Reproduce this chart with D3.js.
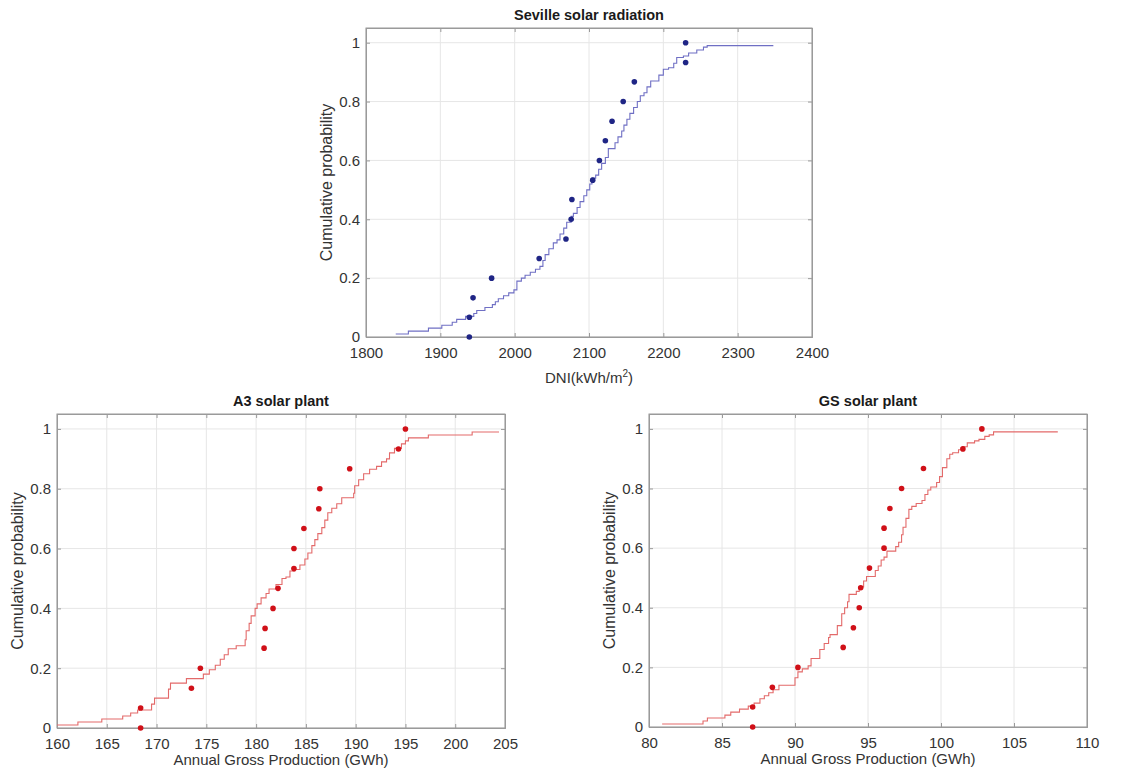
<!DOCTYPE html>
<html>
<head>
<meta charset="utf-8">
<script src="https://cdn.jsdelivr.net/npm/d3@7"></script>
<style>
  body { margin: 0; background: #fff; }
  svg { font-family: "Liberation Sans", Arial, sans-serif; }
</style>
</head>
<body>
<svg id="chart" width="1132" height="770"></svg>
<script>
// observed yearly values, ranked (cumulative probability levels)
const probLevels = [0, 0.067, 0.133, 0.2, 0.267, 0.333, 0.4, 0.467, 0.533, 0.6, 0.667, 0.733, 0.8, 0.867, 0.933, 1];
const yTicks = [0, 0.2, 0.4, 0.6, 0.8, 1];

// Seville DNI
const sevilleTicks = [1800, 1900, 2000, 2100, 2200, 2300, 2400];
const sevilleObs = [1939, 1939, 1944, 1969, 2033, 2069, 2076, 2077, 2105, 2114, 2122, 2131, 2146, 2161, 2230, 2230];
const sevilleCdfX = [1840, 1857, 1884, 1902, 1916, 1922, 1934, 1945, 1949, 1960, 1970, 1974, 1978, 1985, 1992, 1999, 2003, 2009, 2014, 2021, 2028, 2034, 2038, 2041, 2046, 2052, 2057, 2061, 2066, 2070, 2076, 2079, 2084, 2088, 2093, 2097, 2101, 2104, 2109, 2113, 2117, 2122, 2126, 2135, 2139, 2144, 2147, 2151, 2155, 2160, 2165, 2169, 2174, 2178, 2183, 2194, 2200, 2207, 2214, 2218, 2227, 2234, 2245, 2254, 2259, 2348];
const sevilleCdfY = [0.01, 0.02, 0.03, 0.04, 0.05, 0.06, 0.07, 0.08, 0.09, 0.10, 0.11, 0.12, 0.13, 0.14, 0.15, 0.16, 0.19, 0.20, 0.21, 0.22, 0.23, 0.24, 0.26, 0.28, 0.30, 0.32, 0.33, 0.35, 0.37, 0.39, 0.41, 0.42, 0.44, 0.46, 0.48, 0.50, 0.52, 0.54, 0.55, 0.57, 0.59, 0.61, 0.64, 0.66, 0.68, 0.70, 0.72, 0.74, 0.76, 0.78, 0.80, 0.82, 0.83, 0.85, 0.87, 0.89, 0.91, 0.915, 0.93, 0.95, 0.955, 0.965, 0.975, 0.985, 0.99, 0.99];

// A3 plant production
const a3Ticks = [160, 165, 170, 175, 180, 185, 190, 195, 200, 205];
const a3Obs = [168.4, 168.4, 173.5, 174.4, 180.8, 180.9, 181.7, 182.2, 183.8, 183.8, 184.8, 186.3, 186.4, 189.4, 194.3, 195.0];
const a3CdfX = [160, 162.1, 164.5, 166.6, 167.4, 168.1, 169.5, 169.8, 171.2, 171.4, 173, 174.7, 175.3, 175.9, 176.4, 176.8, 177.2, 178, 178.9, 179, 179.3, 179.5, 179.9, 180.1, 180.5, 181, 181.3, 182, 182.6, 183, 183.4, 183.9, 184.4, 184.9, 185.2, 185.6, 185.9, 186.2, 186.6, 186.9, 187.2, 187.6, 188.1, 188.6, 189.8, 189.9, 190.3, 190.8, 191.4, 192.1, 192.6, 193.1, 193.4, 193.9, 194.6, 195, 195.3, 197.3, 201.7, 204.4];
const a3CdfY = [0.01, 0.02, 0.03, 0.04, 0.05, 0.06, 0.08, 0.10, 0.13, 0.15, 0.165, 0.18, 0.195, 0.21, 0.23, 0.245, 0.265, 0.275, 0.295, 0.325, 0.35, 0.375, 0.40, 0.415, 0.435, 0.45, 0.465, 0.48, 0.50, 0.505, 0.525, 0.53, 0.545, 0.565, 0.585, 0.61, 0.63, 0.65, 0.67, 0.695, 0.72, 0.735, 0.75, 0.77, 0.785, 0.81, 0.83, 0.85, 0.865, 0.875, 0.89, 0.90, 0.92, 0.935, 0.95, 0.96, 0.97, 0.98, 0.99, 0.99];

// GS plant production
const gsTicks = [80, 85, 90, 95, 100, 105, 110];
const gsObs = [87.1, 87.1, 88.45, 90.2, 93.3, 94.0, 94.4, 94.5, 95.1, 96.1, 96.1, 96.5, 97.3, 98.8, 101.5, 102.8];
const gsCdfX = [80.9, 83.7, 84.0, 85.2, 85.6, 86.2, 86.8, 87.2, 87.6, 87.9, 88.2, 88.5, 88.9, 90.0, 90.2, 90.5, 90.9, 91.1, 91.7, 92.0, 92.3, 92.4, 92.9, 93.2, 93.4, 93.6, 93.7, 94.2, 94.4, 94.7, 94.9, 95.5, 95.7, 95.9, 96.1, 96.3, 96.9, 97.1, 97.3, 97.4, 97.6, 97.8, 98.0, 98.3, 98.7, 98.9, 99.1, 99.3, 99.7, 99.9, 100.1, 100.4, 100.6, 100.8, 101.2, 101.5, 101.8, 102.3, 102.6, 103.0, 103.3, 103.6, 108.0];
const gsCdfY = [0.01, 0.02, 0.03, 0.04, 0.05, 0.06, 0.07, 0.08, 0.095, 0.105, 0.115, 0.125, 0.14, 0.165, 0.185, 0.195, 0.205, 0.23, 0.26, 0.28, 0.30, 0.31, 0.34, 0.38, 0.40, 0.42, 0.445, 0.455, 0.47, 0.49, 0.505, 0.525, 0.54, 0.56, 0.57, 0.59, 0.605, 0.62, 0.645, 0.67, 0.70, 0.73, 0.74, 0.75, 0.76, 0.78, 0.795, 0.805, 0.82, 0.84, 0.87, 0.90, 0.915, 0.92, 0.93, 0.94, 0.953, 0.96, 0.965, 0.975, 0.98, 0.99, 0.99];

const svg = d3.select('#chart');

function drawPanel(p) {
    let x = d3.scaleLinear().domain(p.xDomain).range([0, p.width]);
    let y = d3.scaleLinear().domain([0, 1.05]).range([p.height, 0]);

    let g = svg.append('g')
        .attr('transform', 'translate(' + p.left + ',' + p.top + ')');

    // grid
    g.append('g').selectAll('line')
        .data(p.ticks).enter().append('line')
        .attr('x1', d => x(d)).attr('x2', d => x(d))
        .attr('y1', 0).attr('y2', p.height)
        .attr('stroke', '#e6e6e6');
    g.append('g').selectAll('line')
        .data(yTicks).enter().append('line')
        .attr('x1', 0).attr('x2', p.width)
        .attr('y1', d => y(d)).attr('y2', d => y(d))
        .attr('stroke', '#e6e6e6');

    // axes, ticks inside like matlab
    let fmt = d => d === 0 || d === 1 ? String(d) : d3.format('.1f')(d);
    let xb = g.append('g')
        .attr('transform', 'translate(0,' + p.height + ')')
        .call(d3.axisBottom(x).tickValues(p.ticks).tickSize(-4).tickPadding(10).tickFormat(d3.format('d')));
    let yl = g.append('g')
        .call(d3.axisLeft(y).tickValues(yTicks).tickSize(-4).tickPadding(6).tickFormat(fmt));
    let xt = g.append('g')
        .call(d3.axisTop(x).tickValues(p.ticks).tickSize(-4).tickFormat(''));
    let yr = g.append('g')
        .attr('transform', 'translate(' + p.width + ',0)')
        .call(d3.axisRight(y).tickValues(yTicks).tickSize(-4).tickFormat(''));

    [xb, yl, xt, yr].forEach(function (a) {
        a.select('.domain').attr('stroke', '#9a9a9a').attr('stroke-width', 1);
        a.selectAll('.tick line').attr('stroke', '#9a9a9a');
        a.selectAll('.tick text')
            .attr('fill', '#333')
            .style('font-size', '15px')
            .style('font-family', '"Liberation Sans", Arial, sans-serif');
    });
    g.append('rect')
        .attr('width', p.width).attr('height', p.height)
        .attr('fill', 'none').attr('stroke', '#9a9a9a');

    // simulated cdf (stairs)
    let pts = p.cdfX.map((v, i) => [v, p.cdfY[i]]);
    let line = d3.line()
        .x(d => x(d[0]))
        .y(d => y(d[1]))
        .curve(d3.curveStepAfter);
    g.append('path')
        .datum(pts)
        .attr('fill', 'none')
        .attr('stroke', p.lineColor)
        .attr('stroke-width', 1.1)
        .attr('d', line);

    // observed points
    g.append('g').selectAll('circle')
        .data(p.obs).enter().append('circle')
        .attr('cx', d => x(d))
        .attr('cy', (d, i) => y(probLevels[i]))
        .attr('r', 2.8)
        .attr('fill', p.dotColor);

    // titles and labels
    g.append('text')
        .attr('x', p.width / 2).attr('y', -8)
        .attr('text-anchor', 'middle')
        .style('font-size', '14.5px').style('font-weight', 'bold')
        .attr('fill', '#1a1a1a')
        .text(p.title);

    g.append('text')
        .attr('transform', 'translate(' + (-34) + ',' + (p.height / 2) + ') rotate(-90)')
        .attr('text-anchor', 'middle')
        .style('font-size', '16px')
        .attr('fill', '#333')
        .text('Cumulative probability');

    let xl = g.append('text')
        .attr('x', p.width / 2).attr('y', p.height + p.xLabelGap)
        .attr('text-anchor', 'middle')
        .style('font-size', '15px')
        .attr('fill', '#333');
    if (p.xSup) {
        xl.append('tspan').text(p.xLabel[0]);
        xl.append('tspan').attr('dy', -6).style('font-size', '10px').text(p.xSup);
        xl.append('tspan').attr('dy', 6).text(p.xLabel[1]);
    } else {
        xl.text(p.xLabel);
    }
}

drawPanel({
    left: 366, top: 28, width: 446, height: 309,
    xDomain: [1800, 2400], ticks: sevilleTicks,
    cdfX: sevilleCdfX, cdfY: sevilleCdfY, obs: sevilleObs,
    lineColor: '#6f6fc4', dotColor: '#1f2585',
    title: 'Seville solar radiation',
    xLabel: ['DNI(kWh/m', ')'], xSup: '2', xLabelGap: 46
});

drawPanel({
    left: 57, top: 414, width: 448, height: 314,
    xDomain: [160, 205], ticks: a3Ticks,
    cdfX: a3CdfX, cdfY: a3CdfY, obs: a3Obs,
    lineColor: '#e36a6a', dotColor: '#d01018',
    title: 'A3 solar plant',
    xLabel: 'Annual Gross Production (GWh)', xLabelGap: 37
});

drawPanel({
    left: 649, top: 414, width: 438, height: 313,
    xDomain: [80, 110], ticks: gsTicks,
    cdfX: gsCdfX, cdfY: gsCdfY, obs: gsObs,
    lineColor: '#e36a6a', dotColor: '#d01018',
    title: 'GS solar plant',
    xLabel: 'Annual Gross Production (GWh)', xLabelGap: 37
});
</script>
</body>
</html>
